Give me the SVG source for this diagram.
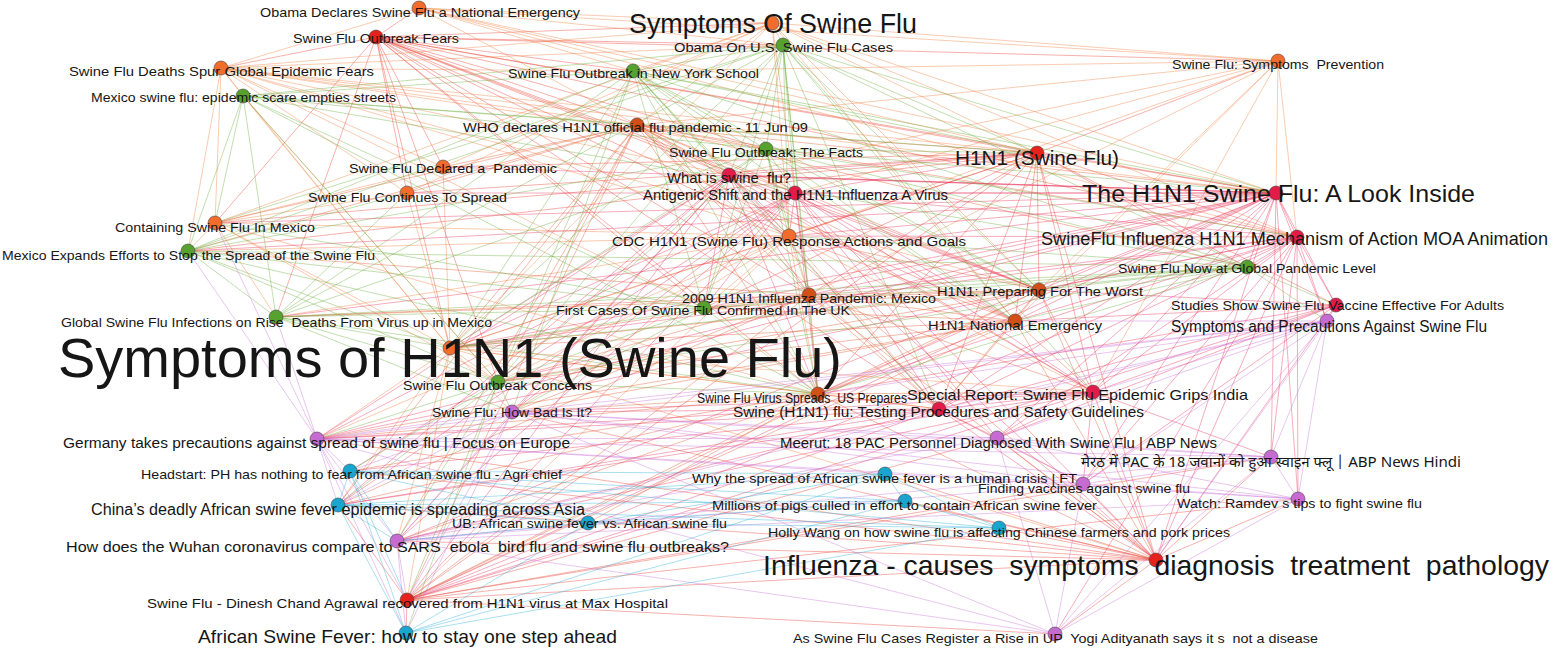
<svg xmlns="http://www.w3.org/2000/svg" width="1554" height="653" viewBox="0 0 1554 653">
<style>
#edges line{stroke-width:.8;stroke-opacity:.5;fill:none}
.r line{stroke:#ec3b2f}.o line{stroke:#f27c3c}.d line{stroke:#e0542a}.c line{stroke:#e8305a}
.g line{stroke:#68ad3a}.p line{stroke:#c76fd6}.t line{stroke:#2bb0d6}
.node circle{r:7px;stroke:#444;stroke-width:.6}
.no circle{fill:#f26d2c}.nd circle{fill:#d24f17}.nr circle{fill:#e5221b}.nc circle{fill:#e21c48}
.ng circle{fill:#57a12f}.np circle{fill:#c66bd1}.nt circle{fill:#1aa5cf}
text{font-family:"Liberation Sans",Arial,sans-serif;fill:#161616;font-size:13.5px}
.m{font-size:15.5px}
.hi{font-family:"Noto Sans Devanagari","Lohit Devanagari","Liberation Sans","Noto Sans",sans-serif}
</style>
<rect width="1554" height="653" fill="#fff"/>
<g id="edges">
<g class="r">
<line x1="376" y1="37" x2="419" y2="8"/><line x1="376" y1="37" x2="221" y2="68"/><line x1="376" y1="37" x2="772" y2="23"/><line x1="376" y1="37" x2="783" y2="45"/><line x1="376" y1="37" x2="633" y2="71"/><line x1="376" y1="37" x2="637" y2="125"/><line x1="376" y1="37" x2="766" y2="149"/><line x1="376" y1="37" x2="729" y2="175"/><line x1="376" y1="37" x2="795" y2="193"/><line x1="376" y1="37" x2="1037" y2="153"/><line x1="376" y1="37" x2="1278" y2="61"/><line x1="376" y1="37" x2="1276" y2="193"/><line x1="376" y1="37" x2="1297" y2="237"/><line x1="376" y1="37" x2="789" y2="236"/><line x1="376" y1="37" x2="809" y2="295"/><line x1="376" y1="37" x2="1039" y2="290"/><line x1="376" y1="37" x2="1015" y2="321"/><line x1="376" y1="37" x2="443" y2="167"/><line x1="376" y1="37" x2="407" y2="193"/><line x1="376" y1="37" x2="215" y2="223"/><line x1="376" y1="37" x2="450" y2="348"/><line x1="376" y1="37" x2="818" y2="394"/><line x1="376" y1="37" x2="704" y2="308"/><line x1="376" y1="37" x2="939" y2="409"/><line x1="376" y1="37" x2="498" y2="382"/><line x1="376" y1="37" x2="276" y2="317"/>
<line x1="1037" y1="153" x2="1276" y2="193"/><line x1="1037" y1="153" x2="1297" y2="237"/><line x1="1037" y1="153" x2="1039" y2="290"/><line x1="1037" y1="153" x2="1015" y2="321"/><line x1="1037" y1="153" x2="1336" y2="305"/><line x1="1037" y1="153" x2="1093" y2="392"/><line x1="1037" y1="153" x2="818" y2="394"/><line x1="1037" y1="153" x2="809" y2="295"/><line x1="1037" y1="153" x2="789" y2="236"/><line x1="1037" y1="153" x2="450" y2="348"/><line x1="1037" y1="153" x2="939" y2="409"/><line x1="1037" y1="153" x2="1156" y2="560"/><line x1="1037" y1="153" x2="407" y2="600"/><line x1="1037" y1="153" x2="1247" y2="267"/><line x1="1037" y1="153" x2="704" y2="308"/><line x1="1037" y1="153" x2="407" y2="193"/><line x1="1037" y1="153" x2="443" y2="167"/><line x1="1037" y1="153" x2="1278" y2="61"/><line x1="1037" y1="153" x2="215" y2="223"/><line x1="1037" y1="153" x2="188" y2="251"/>
<line x1="407" y1="600" x2="1156" y2="560"/><line x1="407" y1="600" x2="997" y2="438"/><line x1="407" y1="600" x2="1083" y2="484"/><line x1="407" y1="600" x2="406" y2="633"/><line x1="407" y1="600" x2="338" y2="505"/><line x1="407" y1="600" x2="1271" y2="457"/><line x1="407" y1="600" x2="1298" y2="499"/><line x1="407" y1="600" x2="1055" y2="634"/>
<line x1="1156" y1="560" x2="1083" y2="484"/><line x1="1156" y1="560" x2="997" y2="438"/><line x1="1156" y1="560" x2="1271" y2="457"/><line x1="1156" y1="560" x2="1298" y2="499"/><line x1="1156" y1="560" x2="1055" y2="634"/><line x1="1156" y1="560" x2="885" y2="474"/><line x1="1156" y1="560" x2="905" y2="501"/><line x1="1156" y1="560" x2="999" y2="528"/><line x1="1156" y1="560" x2="317" y2="439"/><line x1="1156" y1="560" x2="338" y2="505"/><line x1="1156" y1="560" x2="350" y2="471"/><line x1="1156" y1="560" x2="397" y2="541"/><line x1="1156" y1="560" x2="512" y2="412"/>
</g>
<g class="o">
<line x1="419" y1="8" x2="772" y2="23"/><line x1="419" y1="8" x2="783" y2="45"/><line x1="419" y1="8" x2="221" y2="68"/><line x1="419" y1="8" x2="637" y2="125"/><line x1="419" y1="8" x2="1037" y2="153"/><line x1="419" y1="8" x2="1276" y2="193"/><line x1="419" y1="8" x2="1278" y2="61"/><line x1="419" y1="8" x2="633" y2="71"/><line x1="419" y1="8" x2="1297" y2="237"/>
<line x1="221" y1="68" x2="243" y2="96"/><line x1="221" y1="68" x2="633" y2="71"/><line x1="221" y1="68" x2="637" y2="125"/><line x1="221" y1="68" x2="766" y2="149"/><line x1="221" y1="68" x2="1037" y2="153"/><line x1="221" y1="68" x2="1276" y2="193"/><line x1="221" y1="68" x2="215" y2="223"/><line x1="221" y1="68" x2="450" y2="348"/><line x1="221" y1="68" x2="443" y2="167"/><line x1="221" y1="68" x2="407" y2="193"/><line x1="221" y1="68" x2="789" y2="236"/><line x1="221" y1="68" x2="1039" y2="290"/><line x1="221" y1="68" x2="729" y2="175"/><line x1="221" y1="68" x2="783" y2="45"/><line x1="221" y1="68" x2="704" y2="308"/><line x1="221" y1="68" x2="188" y2="251"/>
<line x1="772" y1="23" x2="1278" y2="61"/><line x1="772" y1="23" x2="1037" y2="153"/><line x1="772" y1="23" x2="1276" y2="193"/><line x1="772" y1="23" x2="1297" y2="237"/><line x1="772" y1="23" x2="633" y2="71"/><line x1="772" y1="23" x2="1039" y2="290"/><line x1="772" y1="23" x2="450" y2="348"/><line x1="772" y1="23" x2="783" y2="45"/><line x1="772" y1="23" x2="795" y2="193"/><line x1="772" y1="23" x2="789" y2="236"/><line x1="772" y1="23" x2="1015" y2="321"/><line x1="772" y1="23" x2="443" y2="167"/><line x1="772" y1="23" x2="637" y2="125"/><line x1="772" y1="23" x2="221" y2="68"/><line x1="772" y1="23" x2="215" y2="223"/><line x1="772" y1="23" x2="407" y2="193"/>
<line x1="1278" y1="61" x2="1276" y2="193"/><line x1="1278" y1="61" x2="1297" y2="237"/><line x1="1278" y1="61" x2="1039" y2="290"/><line x1="1278" y1="61" x2="637" y2="125"/><line x1="1278" y1="61" x2="795" y2="193"/><line x1="1278" y1="61" x2="789" y2="236"/><line x1="1278" y1="61" x2="809" y2="295"/><line x1="1278" y1="61" x2="729" y2="175"/><line x1="1278" y1="61" x2="633" y2="71"/><line x1="1278" y1="61" x2="1015" y2="321"/><line x1="1278" y1="61" x2="1093" y2="392"/>
<line x1="789" y1="236" x2="809" y2="295"/><line x1="789" y1="236" x2="704" y2="308"/><line x1="789" y1="236" x2="818" y2="394"/><line x1="789" y1="236" x2="450" y2="348"/><line x1="789" y1="236" x2="498" y2="382"/><line x1="789" y1="236" x2="512" y2="412"/><line x1="789" y1="236" x2="939" y2="409"/><line x1="789" y1="236" x2="317" y2="439"/><line x1="789" y1="236" x2="1093" y2="392"/><line x1="789" y1="236" x2="407" y2="600"/><line x1="789" y1="236" x2="215" y2="223"/><line x1="789" y1="236" x2="276" y2="317"/><line x1="789" y1="236" x2="188" y2="251"/>
<line x1="215" y1="223" x2="188" y2="251"/><line x1="215" y1="223" x2="276" y2="317"/><line x1="215" y1="223" x2="450" y2="348"/><line x1="215" y1="223" x2="818" y2="394"/><line x1="215" y1="223" x2="407" y2="193"/><line x1="215" y1="223" x2="443" y2="167"/><line x1="215" y1="223" x2="498" y2="382"/>
<line x1="450" y1="348" x2="498" y2="382"/><line x1="450" y1="348" x2="512" y2="412"/><line x1="450" y1="348" x2="818" y2="394"/><line x1="450" y1="348" x2="939" y2="409"/><line x1="450" y1="348" x2="1093" y2="392"/><line x1="450" y1="348" x2="1156" y2="560"/><line x1="450" y1="348" x2="407" y2="600"/><line x1="450" y1="348" x2="317" y2="439"/><line x1="450" y1="348" x2="407" y2="193"/><line x1="450" y1="348" x2="443" y2="167"/><line x1="450" y1="348" x2="338" y2="505"/><line x1="450" y1="348" x2="397" y2="541"/>
<line x1="243" y1="96" x2="498" y2="382"/><line x1="243" y1="96" x2="450" y2="348"/>
</g>
<g class="d">
<line x1="637" y1="125" x2="1037" y2="153"/><line x1="637" y1="125" x2="1276" y2="193"/><line x1="637" y1="125" x2="1297" y2="237"/><line x1="637" y1="125" x2="1039" y2="290"/><line x1="637" y1="125" x2="1015" y2="321"/><line x1="637" y1="125" x2="809" y2="295"/><line x1="637" y1="125" x2="818" y2="394"/><line x1="637" y1="125" x2="215" y2="223"/><line x1="637" y1="125" x2="188" y2="251"/><line x1="637" y1="125" x2="450" y2="348"/><line x1="637" y1="125" x2="766" y2="149"/><line x1="637" y1="125" x2="729" y2="175"/><line x1="637" y1="125" x2="795" y2="193"/><line x1="637" y1="125" x2="789" y2="236"/><line x1="637" y1="125" x2="939" y2="409"/><line x1="637" y1="125" x2="1156" y2="560"/><line x1="637" y1="125" x2="443" y2="167"/><line x1="637" y1="125" x2="407" y2="193"/><line x1="637" y1="125" x2="1093" y2="392"/><line x1="637" y1="125" x2="407" y2="600"/><line x1="637" y1="125" x2="1247" y2="267"/><line x1="637" y1="125" x2="338" y2="505"/><line x1="637" y1="125" x2="397" y2="541"/><line x1="637" y1="125" x2="498" y2="382"/>
<line x1="1039" y1="290" x2="1015" y2="321"/><line x1="1039" y1="290" x2="818" y2="394"/><line x1="1039" y1="290" x2="1093" y2="392"/><line x1="1039" y1="290" x2="450" y2="348"/><line x1="1039" y1="290" x2="498" y2="382"/><line x1="1039" y1="290" x2="276" y2="317"/><line x1="1039" y1="290" x2="809" y2="295"/><line x1="1039" y1="290" x2="789" y2="236"/><line x1="1039" y1="290" x2="704" y2="308"/><line x1="1039" y1="290" x2="939" y2="409"/><line x1="1039" y1="290" x2="407" y2="600"/><line x1="1039" y1="290" x2="1156" y2="560"/>
<line x1="1015" y1="321" x2="809" y2="295"/><line x1="1015" y1="321" x2="818" y2="394"/><line x1="1015" y1="321" x2="450" y2="348"/><line x1="1015" y1="321" x2="939" y2="409"/><line x1="1015" y1="321" x2="1093" y2="392"/><line x1="1015" y1="321" x2="407" y2="600"/><line x1="1015" y1="321" x2="789" y2="236"/><line x1="1015" y1="321" x2="704" y2="308"/><line x1="1015" y1="321" x2="498" y2="382"/><line x1="1015" y1="321" x2="512" y2="412"/><line x1="1015" y1="321" x2="1156" y2="560"/><line x1="1015" y1="321" x2="317" y2="439"/>
<line x1="809" y1="295" x2="704" y2="308"/><line x1="809" y1="295" x2="818" y2="394"/><line x1="809" y1="295" x2="450" y2="348"/><line x1="809" y1="295" x2="1093" y2="392"/><line x1="809" y1="295" x2="939" y2="409"/><line x1="809" y1="295" x2="498" y2="382"/><line x1="809" y1="295" x2="407" y2="600"/><line x1="809" y1="295" x2="512" y2="412"/><line x1="809" y1="295" x2="276" y2="317"/><line x1="809" y1="295" x2="188" y2="251"/><line x1="809" y1="295" x2="338" y2="505"/><line x1="809" y1="295" x2="1156" y2="560"/>
<line x1="818" y1="394" x2="939" y2="409"/><line x1="818" y1="394" x2="1093" y2="392"/><line x1="818" y1="394" x2="407" y2="600"/><line x1="818" y1="394" x2="397" y2="541"/><line x1="818" y1="394" x2="588" y2="523"/><line x1="818" y1="394" x2="338" y2="505"/><line x1="818" y1="394" x2="317" y2="439"/><line x1="818" y1="394" x2="350" y2="471"/><line x1="818" y1="394" x2="1156" y2="560"/><line x1="818" y1="394" x2="512" y2="412"/>
</g>
<g class="c">
<line x1="729" y1="175" x2="789" y2="236"/><line x1="729" y1="175" x2="809" y2="295"/><line x1="729" y1="175" x2="704" y2="308"/><line x1="729" y1="175" x2="818" y2="394"/><line x1="729" y1="175" x2="450" y2="348"/><line x1="729" y1="175" x2="498" y2="382"/><line x1="729" y1="175" x2="512" y2="412"/><line x1="729" y1="175" x2="939" y2="409"/><line x1="729" y1="175" x2="407" y2="600"/><line x1="729" y1="175" x2="338" y2="505"/><line x1="729" y1="175" x2="1037" y2="153"/><line x1="729" y1="175" x2="1276" y2="193"/><line x1="729" y1="175" x2="1039" y2="290"/><line x1="729" y1="175" x2="1093" y2="392"/><line x1="729" y1="175" x2="1156" y2="560"/><line x1="729" y1="175" x2="317" y2="439"/><line x1="729" y1="175" x2="397" y2="541"/>
<line x1="795" y1="193" x2="789" y2="236"/><line x1="795" y1="193" x2="809" y2="295"/><line x1="795" y1="193" x2="704" y2="308"/><line x1="795" y1="193" x2="818" y2="394"/><line x1="795" y1="193" x2="939" y2="409"/><line x1="795" y1="193" x2="450" y2="348"/><line x1="795" y1="193" x2="1093" y2="392"/><line x1="795" y1="193" x2="1015" y2="321"/><line x1="795" y1="193" x2="1039" y2="290"/><line x1="795" y1="193" x2="407" y2="600"/><line x1="795" y1="193" x2="317" y2="439"/><line x1="795" y1="193" x2="512" y2="412"/><line x1="795" y1="193" x2="397" y2="541"/><line x1="795" y1="193" x2="1037" y2="153"/><line x1="795" y1="193" x2="1276" y2="193"/><line x1="795" y1="193" x2="1297" y2="237"/><line x1="795" y1="193" x2="1156" y2="560"/><line x1="795" y1="193" x2="997" y2="438"/><line x1="795" y1="193" x2="338" y2="505"/><line x1="795" y1="193" x2="350" y2="471"/>
<line x1="1276" y1="193" x2="1297" y2="237"/><line x1="1276" y1="193" x2="1247" y2="267"/><line x1="1276" y1="193" x2="1336" y2="305"/><line x1="1276" y1="193" x2="1327" y2="321"/><line x1="1276" y1="193" x2="1039" y2="290"/><line x1="1276" y1="193" x2="1015" y2="321"/><line x1="1276" y1="193" x2="809" y2="295"/><line x1="1276" y1="193" x2="789" y2="236"/><line x1="1276" y1="193" x2="1093" y2="392"/><line x1="1276" y1="193" x2="939" y2="409"/><line x1="1276" y1="193" x2="1156" y2="560"/><line x1="1276" y1="193" x2="1083" y2="484"/><line x1="1276" y1="193" x2="997" y2="438"/><line x1="1276" y1="193" x2="407" y2="600"/><line x1="1276" y1="193" x2="450" y2="348"/><line x1="1276" y1="193" x2="443" y2="167"/><line x1="1276" y1="193" x2="407" y2="193"/><line x1="1276" y1="193" x2="818" y2="394"/><line x1="1276" y1="193" x2="704" y2="308"/><line x1="1276" y1="193" x2="1298" y2="499"/><line x1="1276" y1="193" x2="1271" y2="457"/><line x1="1276" y1="193" x2="215" y2="223"/><line x1="1276" y1="193" x2="498" y2="382"/><line x1="1276" y1="193" x2="729" y2="175"/><line x1="1276" y1="193" x2="188" y2="251"/><line x1="1276" y1="193" x2="276" y2="317"/><line x1="1276" y1="193" x2="317" y2="439"/><line x1="1276" y1="193" x2="397" y2="541"/>
<line x1="1297" y1="237" x2="1247" y2="267"/><line x1="1297" y1="237" x2="1336" y2="305"/><line x1="1297" y1="237" x2="1327" y2="321"/><line x1="1297" y1="237" x2="1039" y2="290"/><line x1="1297" y1="237" x2="1015" y2="321"/><line x1="1297" y1="237" x2="1093" y2="392"/><line x1="1297" y1="237" x2="1156" y2="560"/><line x1="1297" y1="237" x2="997" y2="438"/><line x1="1297" y1="237" x2="1271" y2="457"/><line x1="1297" y1="237" x2="1298" y2="499"/><line x1="1297" y1="237" x2="407" y2="600"/><line x1="1297" y1="237" x2="809" y2="295"/><line x1="1297" y1="237" x2="818" y2="394"/><line x1="1297" y1="237" x2="1083" y2="484"/><line x1="1297" y1="237" x2="789" y2="236"/><line x1="1297" y1="237" x2="939" y2="409"/><line x1="1297" y1="237" x2="317" y2="439"/><line x1="1297" y1="237" x2="450" y2="348"/><line x1="1297" y1="237" x2="1055" y2="634"/>
<line x1="1336" y1="305" x2="1327" y2="321"/><line x1="1336" y1="305" x2="1156" y2="560"/><line x1="1336" y1="305" x2="1093" y2="392"/><line x1="1336" y1="305" x2="1083" y2="484"/><line x1="1336" y1="305" x2="939" y2="409"/><line x1="1336" y1="305" x2="1015" y2="321"/><line x1="1336" y1="305" x2="818" y2="394"/><line x1="1336" y1="305" x2="407" y2="600"/><line x1="1336" y1="305" x2="1039" y2="290"/><line x1="1336" y1="305" x2="997" y2="438"/>
<line x1="939" y1="409" x2="1156" y2="560"/><line x1="939" y1="409" x2="997" y2="438"/><line x1="939" y1="409" x2="1083" y2="484"/><line x1="939" y1="409" x2="407" y2="600"/><line x1="939" y1="409" x2="397" y2="541"/><line x1="939" y1="409" x2="317" y2="439"/><line x1="939" y1="409" x2="338" y2="505"/><line x1="939" y1="409" x2="350" y2="471"/><line x1="939" y1="409" x2="1093" y2="392"/><line x1="939" y1="409" x2="512" y2="412"/>
<line x1="1093" y1="392" x2="1156" y2="560"/><line x1="1093" y1="392" x2="997" y2="438"/><line x1="1093" y1="392" x2="1083" y2="484"/><line x1="1093" y1="392" x2="1271" y2="457"/><line x1="1093" y1="392" x2="407" y2="600"/><line x1="1093" y1="392" x2="397" y2="541"/><line x1="1093" y1="392" x2="317" y2="439"/><line x1="1093" y1="392" x2="338" y2="505"/><line x1="1093" y1="392" x2="512" y2="412"/>
</g>
<g class="g">
<line x1="243" y1="96" x2="633" y2="71"/><line x1="243" y1="96" x2="783" y2="45"/><line x1="243" y1="96" x2="766" y2="149"/><line x1="243" y1="96" x2="276" y2="317"/><line x1="243" y1="96" x2="188" y2="251"/><line x1="243" y1="96" x2="215" y2="223"/><line x1="243" y1="96" x2="704" y2="308"/><line x1="243" y1="96" x2="498" y2="382"/><line x1="243" y1="96" x2="818" y2="394"/><line x1="243" y1="96" x2="637" y2="125"/><line x1="243" y1="96" x2="1247" y2="267"/><line x1="243" y1="96" x2="1037" y2="153"/>
<line x1="783" y1="45" x2="633" y2="71"/><line x1="783" y1="45" x2="766" y2="149"/><line x1="783" y1="45" x2="729" y2="175"/><line x1="783" y1="45" x2="795" y2="193"/><line x1="783" y1="45" x2="789" y2="236"/><line x1="783" y1="45" x2="809" y2="295"/><line x1="783" y1="45" x2="704" y2="308"/><line x1="783" y1="45" x2="1039" y2="290"/><line x1="783" y1="45" x2="1247" y2="267"/><line x1="783" y1="45" x2="1037" y2="153"/><line x1="783" y1="45" x2="276" y2="317"/><line x1="783" y1="45" x2="188" y2="251"/><line x1="783" y1="45" x2="215" y2="223"/><line x1="783" y1="45" x2="818" y2="394"/><line x1="783" y1="45" x2="498" y2="382"/><line x1="783" y1="45" x2="1015" y2="321"/><line x1="783" y1="45" x2="1276" y2="193"/><line x1="783" y1="45" x2="450" y2="348"/><line x1="783" y1="45" x2="939" y2="409"/><line x1="783" y1="45" x2="1093" y2="392"/>
<line x1="633" y1="71" x2="766" y2="149"/><line x1="633" y1="71" x2="704" y2="308"/><line x1="633" y1="71" x2="809" y2="295"/><line x1="633" y1="71" x2="789" y2="236"/><line x1="633" y1="71" x2="450" y2="348"/><line x1="633" y1="71" x2="498" y2="382"/><line x1="633" y1="71" x2="818" y2="394"/><line x1="633" y1="71" x2="188" y2="251"/><line x1="633" y1="71" x2="276" y2="317"/><line x1="633" y1="71" x2="1247" y2="267"/><line x1="633" y1="71" x2="1037" y2="153"/><line x1="633" y1="71" x2="729" y2="175"/><line x1="633" y1="71" x2="795" y2="193"/><line x1="633" y1="71" x2="1039" y2="290"/><line x1="633" y1="71" x2="1015" y2="321"/><line x1="633" y1="71" x2="1276" y2="193"/><line x1="633" y1="71" x2="512" y2="412"/><line x1="633" y1="71" x2="939" y2="409"/>
<line x1="766" y1="149" x2="704" y2="308"/><line x1="766" y1="149" x2="809" y2="295"/><line x1="766" y1="149" x2="1039" y2="290"/><line x1="766" y1="149" x2="1015" y2="321"/><line x1="766" y1="149" x2="1247" y2="267"/><line x1="766" y1="149" x2="818" y2="394"/><line x1="766" y1="149" x2="498" y2="382"/><line x1="766" y1="149" x2="1037" y2="153"/><line x1="766" y1="149" x2="1276" y2="193"/><line x1="766" y1="149" x2="729" y2="175"/><line x1="766" y1="149" x2="795" y2="193"/><line x1="766" y1="149" x2="789" y2="236"/><line x1="766" y1="149" x2="450" y2="348"/><line x1="766" y1="149" x2="1297" y2="237"/><line x1="766" y1="149" x2="276" y2="317"/><line x1="766" y1="149" x2="188" y2="251"/>
<line x1="1247" y1="267" x2="1039" y2="290"/><line x1="1247" y1="267" x2="1015" y2="321"/><line x1="1247" y1="267" x2="809" y2="295"/><line x1="1247" y1="267" x2="704" y2="308"/><line x1="1247" y1="267" x2="498" y2="382"/><line x1="1247" y1="267" x2="450" y2="348"/><line x1="1247" y1="267" x2="276" y2="317"/><line x1="1247" y1="267" x2="1336" y2="305"/><line x1="1247" y1="267" x2="789" y2="236"/><line x1="1247" y1="267" x2="818" y2="394"/><line x1="1247" y1="267" x2="188" y2="251"/><line x1="1247" y1="267" x2="1327" y2="321"/>
<line x1="704" y1="308" x2="818" y2="394"/><line x1="704" y1="308" x2="498" y2="382"/><line x1="704" y1="308" x2="450" y2="348"/><line x1="704" y1="308" x2="276" y2="317"/><line x1="704" y1="308" x2="188" y2="251"/><line x1="704" y1="308" x2="215" y2="223"/><line x1="704" y1="308" x2="512" y2="412"/>
<line x1="188" y1="251" x2="276" y2="317"/><line x1="188" y1="251" x2="498" y2="382"/><line x1="188" y1="251" x2="818" y2="394"/><line x1="188" y1="251" x2="450" y2="348"/><line x1="188" y1="251" x2="407" y2="193"/>
<line x1="276" y1="317" x2="498" y2="382"/><line x1="276" y1="317" x2="818" y2="394"/><line x1="276" y1="317" x2="450" y2="348"/><line x1="276" y1="317" x2="407" y2="193"/><line x1="276" y1="317" x2="512" y2="412"/>
<line x1="498" y1="382" x2="818" y2="394"/><line x1="498" y1="382" x2="512" y2="412"/><line x1="498" y1="382" x2="317" y2="439"/><line x1="498" y1="382" x2="397" y2="541"/><line x1="498" y1="382" x2="338" y2="505"/><line x1="498" y1="382" x2="350" y2="471"/><line x1="498" y1="382" x2="407" y2="600"/><line x1="498" y1="382" x2="406" y2="633"/>
</g>
<g class="p">
<line x1="1327" y1="321" x2="997" y2="438"/><line x1="1327" y1="321" x2="1271" y2="457"/><line x1="1327" y1="321" x2="1083" y2="484"/><line x1="1327" y1="321" x2="1298" y2="499"/><line x1="1327" y1="321" x2="1055" y2="634"/><line x1="1327" y1="321" x2="1156" y2="560"/><line x1="1327" y1="321" x2="317" y2="439"/><line x1="1327" y1="321" x2="512" y2="412"/><line x1="1327" y1="321" x2="397" y2="541"/><line x1="1327" y1="321" x2="1093" y2="392"/><line x1="1327" y1="321" x2="939" y2="409"/><line x1="1327" y1="321" x2="1015" y2="321"/><line x1="1327" y1="321" x2="818" y2="394"/>
<line x1="512" y1="412" x2="317" y2="439"/><line x1="512" y1="412" x2="397" y2="541"/><line x1="512" y1="412" x2="997" y2="438"/><line x1="512" y1="412" x2="1083" y2="484"/><line x1="512" y1="412" x2="1055" y2="634"/><line x1="512" y1="412" x2="1298" y2="499"/><line x1="512" y1="412" x2="1271" y2="457"/><line x1="512" y1="412" x2="350" y2="471"/><line x1="512" y1="412" x2="338" y2="505"/><line x1="512" y1="412" x2="406" y2="633"/><line x1="512" y1="412" x2="407" y2="600"/>
<line x1="317" y1="439" x2="397" y2="541"/><line x1="317" y1="439" x2="997" y2="438"/><line x1="317" y1="439" x2="1271" y2="457"/><line x1="317" y1="439" x2="1083" y2="484"/><line x1="317" y1="439" x2="1298" y2="499"/><line x1="317" y1="439" x2="1055" y2="634"/><line x1="317" y1="439" x2="350" y2="471"/><line x1="317" y1="439" x2="338" y2="505"/><line x1="317" y1="439" x2="406" y2="633"/><line x1="317" y1="439" x2="188" y2="251"/><line x1="317" y1="439" x2="215" y2="223"/><line x1="317" y1="439" x2="276" y2="317"/><line x1="317" y1="439" x2="407" y2="600"/>
<line x1="397" y1="541" x2="997" y2="438"/><line x1="397" y1="541" x2="1083" y2="484"/><line x1="397" y1="541" x2="1055" y2="634"/><line x1="397" y1="541" x2="1298" y2="499"/><line x1="397" y1="541" x2="1271" y2="457"/><line x1="397" y1="541" x2="406" y2="633"/><line x1="397" y1="541" x2="407" y2="600"/>
<line x1="997" y1="438" x2="1271" y2="457"/><line x1="997" y1="438" x2="1083" y2="484"/><line x1="997" y1="438" x2="1298" y2="499"/><line x1="997" y1="438" x2="1055" y2="634"/>
<line x1="1271" y1="457" x2="1298" y2="499"/><line x1="1271" y1="457" x2="1083" y2="484"/><line x1="1271" y1="457" x2="1055" y2="634"/>
<line x1="1083" y1="484" x2="1298" y2="499"/><line x1="1083" y1="484" x2="1055" y2="634"/><line x1="1298" y1="499" x2="1055" y2="634"/>
</g>
<g class="t">
<line x1="350" y1="471" x2="338" y2="505"/><line x1="350" y1="471" x2="588" y2="523"/><line x1="350" y1="471" x2="885" y2="474"/><line x1="350" y1="471" x2="905" y2="501"/><line x1="350" y1="471" x2="999" y2="528"/><line x1="350" y1="471" x2="406" y2="633"/><line x1="350" y1="471" x2="397" y2="541"/><line x1="350" y1="471" x2="407" y2="600"/>
<line x1="338" y1="505" x2="588" y2="523"/><line x1="338" y1="505" x2="885" y2="474"/><line x1="338" y1="505" x2="905" y2="501"/><line x1="338" y1="505" x2="999" y2="528"/><line x1="338" y1="505" x2="406" y2="633"/><line x1="338" y1="505" x2="397" y2="541"/>
<line x1="588" y1="523" x2="885" y2="474"/><line x1="588" y1="523" x2="905" y2="501"/><line x1="588" y1="523" x2="999" y2="528"/><line x1="588" y1="523" x2="406" y2="633"/><line x1="588" y1="523" x2="397" y2="541"/>
<line x1="406" y1="633" x2="885" y2="474"/><line x1="406" y1="633" x2="905" y2="501"/><line x1="406" y1="633" x2="999" y2="528"/>
<line x1="885" y1="474" x2="905" y2="501"/><line x1="885" y1="474" x2="999" y2="528"/><line x1="905" y1="501" x2="999" y2="528"/>
</g>
</g>
<g id="nodes">
<g id="n-obama-declares" class="node no"><circle cx="419" cy="8"/><text x="260" y="17" textLength="320" lengthAdjust="spacingAndGlyphs">Obama Declares Swine Flu a National Emergency</text></g>
<g id="n-outbreak-fears" class="node nr"><circle cx="376" cy="37"/><text x="293" y="43" textLength="166" lengthAdjust="spacingAndGlyphs">Swine Flu Outbreak Fears</text></g>
<g id="n-deaths-spur" class="node no"><circle cx="221" cy="68"/><text x="69" y="76" textLength="305" lengthAdjust="spacingAndGlyphs">Swine Flu Deaths Spur Global Epidemic Fears</text></g>
<g id="n-mexico-scare" class="node ng"><circle cx="243" cy="96"/><text x="91" y="102" textLength="305" lengthAdjust="spacingAndGlyphs">Mexico swine flu: epidemic scare empties streets</text></g>
<g id="n-who" class="node nd"><circle cx="637" cy="125"/><text x="463" y="132" textLength="345" lengthAdjust="spacingAndGlyphs">WHO declares H1N1 official flu pandemic - 11 Jun 09</text></g>
<g id="n-declared" class="node no"><circle cx="443" cy="167"/><text x="349" y="173" textLength="208" lengthAdjust="spacingAndGlyphs" xml:space="preserve">Swine Flu Declared a  Pandemic</text></g>
<g id="n-continues" class="node no"><circle cx="407" cy="193"/><text x="308" y="202" textLength="199" lengthAdjust="spacingAndGlyphs">Swine Flu Continues To Spread</text></g>
<g id="n-symptoms-of-sf" class="node no"><circle cx="772" cy="23"/><text x="629" y="33" textLength="288" lengthAdjust="spacingAndGlyphs" style="font-size:27px">Symptoms Of Swine Flu</text></g>
<g id="n-obama-on" class="node ng"><circle cx="783" cy="45"/><text x="674" y="52" textLength="219" lengthAdjust="spacingAndGlyphs">Obama On U.S. Swine Flu Cases</text></g>
<g id="n-ny-school" class="node ng"><circle cx="633" cy="71"/><text x="508" y="78" textLength="251" lengthAdjust="spacingAndGlyphs">Swine Flu Outbreak in New York School</text></g>
<g id="n-facts" class="node ng"><circle cx="766" cy="149"/><text x="669" y="157" textLength="194" lengthAdjust="spacingAndGlyphs">Swine Flu Outbreak: The Facts</text></g>
<g id="n-what-is" class="node nc"><circle cx="729" cy="175"/><text x="667" y="183" textLength="124" lengthAdjust="spacingAndGlyphs" xml:space="preserve" style="font-size:14.5px">What is swine  flu?</text></g>
<g id="n-antigenic" class="node nc"><circle cx="795" cy="193"/><text x="643" y="200" textLength="305" lengthAdjust="spacingAndGlyphs" style="font-size:14.5px">Antigenic Shift and the H1N1 Influenza A Virus</text></g>
<g id="n-h1n1-sf" class="node nr"><circle cx="1037" cy="153"/><text x="955" y="165" textLength="164" lengthAdjust="spacingAndGlyphs" style="font-size:21px">H1N1 (Swine Flu)</text></g>
<g id="n-sym-prev" class="node no"><circle cx="1278" cy="61"/><text x="1172" y="69" textLength="212" lengthAdjust="spacingAndGlyphs" xml:space="preserve">Swine Flu: Symptoms  Prevention</text></g>
<g id="n-look-inside" class="node nc"><circle cx="1276" cy="193"/><text x="1082" y="202" textLength="393" lengthAdjust="spacingAndGlyphs" style="font-size:24.5px">The H1N1 Swine Flu: A Look Inside</text></g>
<g id="n-moa" class="node nc"><circle cx="1297" cy="237"/><text x="1041" y="245" textLength="507" lengthAdjust="spacingAndGlyphs" style="font-size:19px">SwineFlu Influenza H1N1 Mechanism of Action MOA Animation</text></g>
<g id="n-global-level" class="node ng"><circle cx="1247" cy="267"/><text x="1118" y="273" textLength="258" lengthAdjust="spacingAndGlyphs">Swine Flu Now at Global Pandemic Level</text></g>
<g id="n-studies" class="node nc"><circle cx="1336" cy="305"/><text x="1171" y="310" textLength="333" lengthAdjust="spacingAndGlyphs">Studies Show Swine Flu Vaccine Effective For Adults</text></g>
<g id="n-precautions" class="node np"><circle cx="1327" cy="321"/><text x="1171" y="332" textLength="316" lengthAdjust="spacingAndGlyphs" style="font-size:16px">Symptoms and Precautions Against Swine Flu</text></g>
<g id="n-preparing" class="node nd"><circle cx="1039" cy="290"/><text x="937" y="296" textLength="206" lengthAdjust="spacingAndGlyphs">H1N1: Preparing For The Worst</text></g>
<g id="n-national-em" class="node nd"><circle cx="1015" cy="321"/><text x="928" y="330" textLength="174" lengthAdjust="spacingAndGlyphs">H1N1 National Emergency</text></g>
<g id="n-cdc" class="node no"><circle cx="789" cy="236"/><text x="612" y="246" textLength="354" lengthAdjust="spacingAndGlyphs">CDC H1N1 (Swine Flu) Response Actions and Goals</text></g>
<g id="n-2009" class="node nd"><circle cx="809" cy="295"/><text x="682" y="303" textLength="254" lengthAdjust="spacingAndGlyphs">2009 H1N1 Influenza Pandemic: Mexico</text></g>
<g id="n-first-cases" class="node ng"><circle cx="704" cy="308"/><text x="556" y="315" textLength="294" lengthAdjust="spacingAndGlyphs">First Cases Of Swine Flu Confirmed In The UK</text></g>
<g id="n-containing" class="node no"><circle cx="215" cy="223"/><text x="115" y="232" textLength="200" lengthAdjust="spacingAndGlyphs">Containing Swine Flu In Mexico</text></g>
<g id="n-mexico-expands" class="node ng"><circle cx="188" cy="251"/><text x="2" y="260" textLength="373" lengthAdjust="spacingAndGlyphs">Mexico Expands Efforts to Stop the Spread of the Swine Flu</text></g>
<g id="n-global-infections" class="node ng"><circle cx="276" cy="317"/><text x="61" y="327" textLength="431" lengthAdjust="spacingAndGlyphs" xml:space="preserve">Global Swine Flu Infections on Rise  Deaths From Virus up in Mexico</text></g>
<g id="n-symptoms-h1n1" class="node no"><circle cx="450" cy="348"/><text x="58" y="377" textLength="784" lengthAdjust="spacingAndGlyphs" style="font-size:56px">Symptoms of H1N1 (Swine Flu)</text></g>
<g id="n-concerns" class="node ng"><circle cx="498" cy="382"/><text x="403" y="390" textLength="189" lengthAdjust="spacingAndGlyphs">Swine Flu Outbreak Concerns</text></g>
<g id="n-how-bad" class="node np"><circle cx="512" cy="412"/><text x="432" y="417" textLength="160" lengthAdjust="spacingAndGlyphs">Swine Flu: How Bad Is It?</text></g>
<g id="n-virus-spreads" class="node nd"><circle cx="818" cy="394"/><text x="697" y="403" textLength="210" lengthAdjust="spacingAndGlyphs" xml:space="preserve" style="font-size:14px">Swine Flu Virus Spreads  US Prepares</text></g>
<g id="n-special-report" class="node nc"><circle cx="1093" cy="392"/><text x="907" y="400" textLength="341" lengthAdjust="spacingAndGlyphs" style="font-size:15px">Special Report: Swine Flu Epidemic Grips India</text></g>
<g id="n-testing" class="node nc"><circle cx="939" cy="409"/><text x="733" y="417" textLength="411" lengthAdjust="spacingAndGlyphs" class="m">Swine (H1N1) flu: Testing Procedures and Safety Guidelines</text></g>
<g id="n-germany" class="node np"><circle cx="317" cy="439"/><text x="63" y="448" textLength="507" lengthAdjust="spacingAndGlyphs" class="m">Germany takes precautions against spread of swine flu | Focus on Europe</text></g>
<g id="n-headstart" class="node nt"><circle cx="350" cy="471"/><text x="141" y="479" textLength="421" lengthAdjust="spacingAndGlyphs">Headstart: PH has nothing to fear from African swine flu - Agri chief</text></g>
<g id="n-china" class="node nt"><circle cx="338" cy="505"/><text x="91" y="515" textLength="494" lengthAdjust="spacingAndGlyphs" style="font-size:16px">China’s deadly African swine fever epidemic is spreading across Asia</text></g>
<g id="n-ub" class="node nt"><circle cx="588" cy="523"/><text x="452" y="528" textLength="275" lengthAdjust="spacingAndGlyphs">UB: African swine fever vs. African swine flu</text></g>
<g id="n-wuhan" class="node np"><circle cx="397" cy="541"/><text x="66" y="552" textLength="663" lengthAdjust="spacingAndGlyphs" xml:space="preserve" class="m">How does the Wuhan coronavirus compare to SARS  ebola  bird flu and swine flu outbreaks?</text></g>
<g id="n-dinesh" class="node nr"><circle cx="407" cy="600"/><text x="147" y="608" textLength="521" lengthAdjust="spacingAndGlyphs">Swine Flu - Dinesh Chand Agrawal recovered from H1N1 virus at Max Hospital</text></g>
<g id="n-asf" class="node nt"><circle cx="406" cy="633"/><text x="198" y="643" textLength="419" lengthAdjust="spacingAndGlyphs" style="font-size:19px">African Swine Fever: how to stay one step ahead</text></g>
<g id="n-meerut" class="node np"><circle cx="997" cy="438"/><text x="780" y="448" textLength="437" lengthAdjust="spacingAndGlyphs" style="font-size:14.5px">Meerut: 18 PAC Personnel Diagnosed With Swine Flu | ABP News</text></g>
<g id="n-hindi" class="node np"><circle cx="1271" cy="457"/><text x="1081" y="467" textLength="380" lengthAdjust="spacingAndGlyphs" class="hi" style="font-size:14.5px">मेरठ में PAC के 18 जवानों को हुआ स्वाइन फ्लू | ABP News Hindi</text></g>
<g id="n-why-spread" class="node nt"><circle cx="885" cy="474"/><text x="692" y="483" textLength="385" lengthAdjust="spacingAndGlyphs">Why the spread of African swine fever is a human crisis | FT</text></g>
<g id="n-finding" class="node np"><circle cx="1083" cy="484"/><text x="978" y="493" textLength="212" lengthAdjust="spacingAndGlyphs">Finding vaccines against swine flu</text></g>
<g id="n-millions" class="node nt"><circle cx="905" cy="501"/><text x="712" y="510" textLength="385" lengthAdjust="spacingAndGlyphs">Millions of pigs culled in effort to contain African swine fever</text></g>
<g id="n-ramdev" class="node np"><circle cx="1298" cy="499"/><text x="1177" y="508" textLength="245" lengthAdjust="spacingAndGlyphs">Watch: Ramdev s tips to fight swine flu</text></g>
<g id="n-holly" class="node nt"><circle cx="999" cy="528"/><text x="768" y="537" textLength="462" lengthAdjust="spacingAndGlyphs">Holly Wang on how swine flu is affecting Chinese farmers and pork prices</text></g>
<g id="n-influenza" class="node nr"><circle cx="1156" cy="560"/><text x="763" y="575" textLength="786" lengthAdjust="spacingAndGlyphs" xml:space="preserve" style="font-size:28px">Influenza - causes  symptoms  diagnosis  treatment  pathology</text></g>
<g id="n-up" class="node np"><circle cx="1055" cy="634"/><text x="793" y="643" textLength="525" lengthAdjust="spacingAndGlyphs" xml:space="preserve">As Swine Flu Cases Register a Rise in UP  Yogi Adityanath says it s  not a disease</text></g>
</g>
</svg>
